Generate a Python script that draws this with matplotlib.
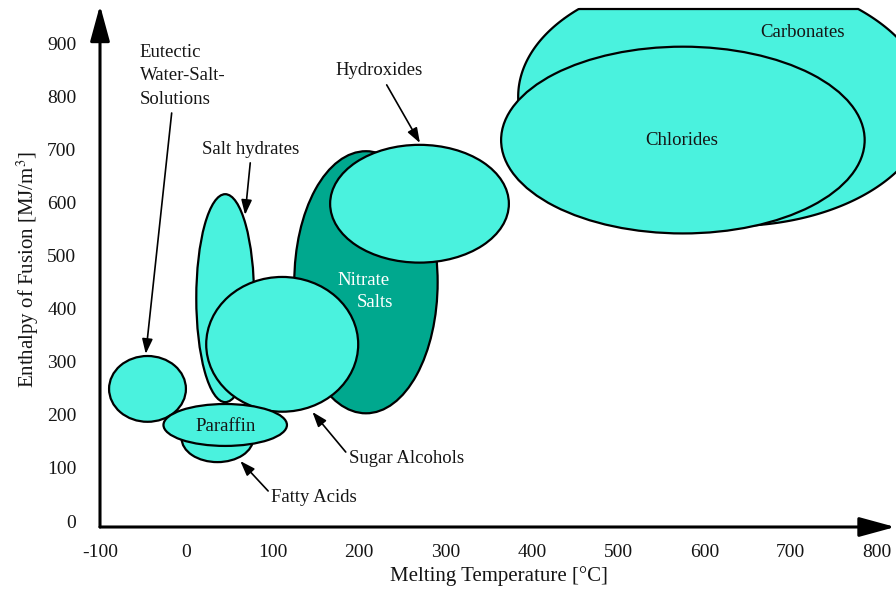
import numpy as np
import matplotlib
matplotlib.use('Agg')
import matplotlib.pyplot as plt
from matplotlib.patches import Ellipse, Polygon

plt.rcParams['font.family'] = 'Liberation Serif'
plt.rcParams['mathtext.fontset'] = 'stix'
plt.rcParams['axes.unicode_minus'] = False

LIGHT = '#4af2de'
DARK = '#00a88e'
INK = '#151515'

# ranges of each material class: melting temperature [C] and enthalpy [MJ/m3]
names = ['Chlorides', 'Nitrate Salts', 'Hydroxides', 'Salt hydrates',
         'Sugar Alcohols', 'Eutectic', 'Fatty Acids', 'Paraffin']
temp_mid = [575, 208, 270, 45, 111, -45, 36, 45]
temp_span = [421, 166, 207, 67, 176, 89, 83, 143]
enth_mid = [718, 450, 598, 420, 333, 249, 156, 181]
enth_span = [352, 494, 222, 392, 254, 124, 90, 79]
fills = [LIGHT, DARK, LIGHT, LIGHT, LIGHT, LIGHT, LIGHT, LIGHT]

# carbonates: tilted range, cut off flat at the top
carb_mid = (622, 792)
carb_span = (482, 466)
carb_angle = 140
carb_cap = 965

fig = plt.figure(figsize=(8.96, 5.9), dpi=100)
ax = fig.add_axes([100 / 896, 63 / 590, 796 / 896, 521.7 / 590])
ax.set_xlim(-95.3, 821.8)
ax.set_ylim(-11.3, 972)

t = np.linspace(0, 2 * np.pi, 600)
th = np.radians(carb_angle)
ca, cb = carb_span[0] / 2, carb_span[1] / 2
ex = carb_mid[0] + ca * np.cos(t) * np.cos(th) - cb * np.sin(t) * np.sin(th)
ey = carb_mid[1] + ca * np.cos(t) * np.sin(th) + cb * np.sin(t) * np.cos(th)
ey = np.minimum(ey, carb_cap)
ax.add_patch(Polygon(np.column_stack([ex, ey]), closed=True, facecolor=LIGHT,
                     edgecolor='k', lw=1.6))

for i in range(len(names)):
    ax.add_patch(Ellipse((temp_mid[i], enth_mid[i]), temp_span[i], enth_span[i],
                         facecolor=fills[i], edgecolor='k', lw=1.6))

fs = 13.5
ax.text(714, 921, 'Carbonates', fontsize=fs, color=INK, ha='center', va='center')
ax.text(574, 718, 'Chlorides', fontsize=fs, color=INK, ha='center', va='center')
ax.text(205, 454, 'Nitrate', fontsize=fs, color='white', ha='center', va='center')
ax.text(218, 411, 'Salts', fontsize=fs, color='white', ha='center', va='center')
ax.text(45, 179, 'Paraffin', fontsize=fs, color=INK, ha='center', va='center')
ax.text(-54, 839, 'Eutectic\nWater-Salt-\nSolutions', fontsize=fs, color=INK,
        ha='left', va='center', linespacing=1.52)
ax.text(75, 701, 'Salt hydrates', fontsize=fs, color=INK, ha='center', va='center')
ax.text(223, 850, 'Hydroxides', fontsize=fs, color=INK, ha='center', va='center')
ax.text(188, 117, 'Sugar Alcohols', fontsize=fs, color=INK, ha='left', va='center')
ax.text(98, 45, 'Fatty Acids', fontsize=fs, color=INK, ha='left', va='center')

# label pointers (from text to shape)
pointers = [((-17, 769), (-47, 315)), ((74, 675), (68, 577)),
            ((232, 822), (270.5, 712.5)), ((184.6, 130), (146, 205.5)),
            ((94.7, 56.6), (62.5, 113))]
for start, tip in pointers:
    ax.annotate('', xy=tip, xytext=start,
                arrowprops=dict(arrowstyle='-|>,head_length=0.45,head_width=0.16',
                                color='k', lw=1.2, mutation_scale=20,
                                shrinkA=0, shrinkB=0))

for s in ax.spines.values():
    s.set_visible(False)
ax.set_xticks(np.arange(-100, 801, 100))
ax.set_yticks(np.arange(0, 901, 100))
ax.tick_params(length=0, labelsize=14, colors=INK)
ax.tick_params(axis='x', pad=12)
ax.tick_params(axis='y', pad=17)

# arrow-style axes
ax.annotate('', xy=(0, 1.0), xytext=(0, 0), xycoords='axes fraction',
            arrowprops=dict(arrowstyle='-|>,head_length=1.1,head_width=0.3',
                            color='k', lw=2.2, mutation_scale=20, shrinkA=0, shrinkB=0))
ax.annotate('', xy=(0.999, 0), xytext=(0, 0), xycoords='axes fraction',
            arrowprops=dict(arrowstyle='-|>,head_length=1.1,head_width=0.3',
                            color='k', lw=2.2, mutation_scale=20, shrinkA=0, shrinkB=0))

ax.set_xlabel('Melting Temperature [°C]', fontsize=15, color=INK)
ax.set_ylabel('Enthalpy of Fusion [MJ/m$^3$]', fontsize=15, color=INK)
ax.xaxis.set_label_coords(0.501, -0.0946)
ax.xaxis.label.set_va('center')
ax.yaxis.set_label_coords(-0.0905, 0.493)
ax.yaxis.label.set_va('center')

fig.savefig('out.png', dpi=100)
